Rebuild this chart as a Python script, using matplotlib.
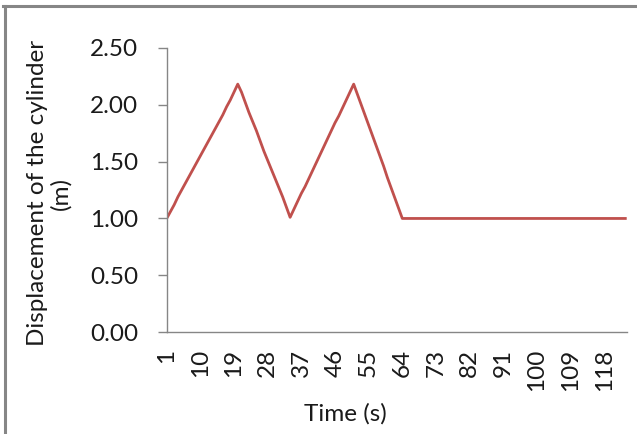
import matplotlib
matplotlib.use("Agg")
import matplotlib.pyplot as plt
from matplotlib.lines import Line2D

# Time steps (s) and cylinder displacement (m)
time_s = list(range(1, 125))
displacement_m = [
    # first stroke up
    1.00, 1.06, 1.12, 1.19, 1.25, 1.31, 1.37, 1.43, 1.49, 1.55,
    1.61, 1.67, 1.73, 1.79, 1.85, 1.91, 1.98, 2.04, 2.11, 2.18,
    # first stroke down
    2.11, 2.02, 1.93, 1.85, 1.77, 1.68, 1.59, 1.51, 1.43, 1.35,
    1.27, 1.19, 1.10, 1.01,
    # second stroke up
    1.08, 1.15, 1.22, 1.28, 1.35, 1.42, 1.49, 1.56, 1.63, 1.70,
    1.77, 1.84, 1.90, 1.97, 2.04, 2.11, 2.18,
    # second stroke down
    2.09, 2.00, 1.91, 1.82, 1.73, 1.64, 1.55, 1.46, 1.36, 1.27,
    1.18, 1.09, 1.00,
] + [1.00] * 60

x_tick_labels = [str(t) for t in range(1, 125, 9)]
y_ticks = [0.0, 0.5, 1.0, 1.5, 2.0, 2.5]

FONT = "Lato"
FS = 17.5
GRAY = "#868686"
TEXT = "#1a1a1a"
LINE_RED = "#C0504D"

W, H = 637, 434
fig = plt.figure(figsize=(W / 100, H / 100), dpi=100)
fig.patch.set_facecolor("white")

left, right, top, bottom = 166.7, 626.7, 47.7, 332.3
ax = fig.add_axes([left / W, 1 - bottom / H, (right - left) / W, (bottom - top) / H])

ax.plot(time_s, displacement_m, color=LINE_RED, linewidth=2.0,
        solid_joinstyle="round", solid_capstyle="butt")

ax.set_xlim(time_s[0], time_s[-1])
ax.set_ylim(0, 2.5)

ax.set_yticks(y_ticks)
ax.set_yticklabels([f"{v:.2f}" for v in y_ticks], fontfamily=FONT, fontsize=FS, color=TEXT)
ax.set_xticks([int(s) for s in x_tick_labels])
ax.set_xticklabels(x_tick_labels, rotation=90, fontfamily=FONT, fontsize=FS,
                   color=TEXT, va="top", ha="center")

ax.tick_params(axis="y", length=6.5, width=1.0, color=GRAY, direction="out", pad=14)
ax.tick_params(axis="x", length=0, pad=12)

for side in ("top", "right"):
    ax.spines[side].set_visible(False)
for side in ("left", "bottom"):
    ax.spines[side].set_color(GRAY)
    ax.spines[side].set_linewidth(1.0)

# axis titles
fig.text(345 / W, 1 - 414 / H, "Time (s)", ha="center", va="center",
         fontfamily=FONT, fontsize=FS, color=TEXT)
fig.text(49 / W, 1 - 193 / H, "Displacement of the cylinder\n(m)",
         rotation=90, ha="center", va="center", multialignment="center",
         fontfamily=FONT, fontsize=FS, color=TEXT, linespacing=1.12)

# chart-area frame along the top and left edges
fig.add_artist(Line2D([4.5 / W, 4.5 / W], [0, 1 - 5.5 / H], transform=fig.transFigure,
                      color=GRAY, linewidth=2.2))
fig.add_artist(Line2D([3.4 / W, 1], [1 - 5.5 / H, 1 - 5.5 / H], transform=fig.transFigure,
                      color=GRAY, linewidth=2.2))

fig.savefig("out.png", dpi=100, facecolor="white")
